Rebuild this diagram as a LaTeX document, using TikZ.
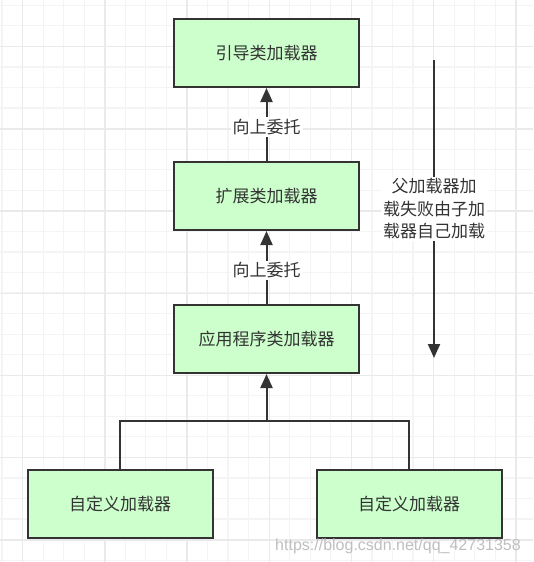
\documentclass[tikz,border=0pt]{standalone}
\usepackage{fontspec}
\newfontfamily\cjk{Noto Sans CJK SC}
\newfontfamily\latinsans{Liberation Sans}
\usepackage{xcolor}
\usepackage{tikz}
\usetikzlibrary{positioning, arrows.meta}

\definecolor{boxfill}{HTML}{CCFFCC}
\definecolor{ink}{HTML}{333333}
\definecolor{gridminor}{HTML}{F4F4F4}
\definecolor{gridmajor}{HTML}{EAEAEA}

\begin{document}
\begin{tikzpicture}[
    x=1pt, y=-1pt,
    % distance between the stacked loaders
    node distance=73pt and 0pt,
    % style of every loader box
    loader_box/.style={
        draw=ink,
        rectangle,
        line width=2pt,
        minimum width=185pt,
        minimum height=68pt,
        align=center,
        fill=boxfill,
        text=ink,
        font=\cjk\fontsize{17}{20}\selectfont
    },
    % style of the text sitting on a connector
    edge_label/.style={
        fill=white,
        text=ink,
        inner sep=2pt,
        align=center,
        font=\cjk\fontsize{17}{22.5}\selectfont
    },
    % style of the connectors
    arrow/.style={
        -{Triangle[length=14pt, width=12pt]},
        line width=2pt,
        draw=ink
    },
    plain_line/.style={
        line width=2pt,
        draw=ink
    },
    grid_minor/.style={draw=gridminor, line width=1.2pt},
    grid_major/.style={draw=gridmajor, line width=1.4pt}
]

\useasboundingbox (0,0) rectangle (533,562);
\fill[white] (0,0) rectangle (533,562);

% =====================================================================
% BACKGROUND GRID
% =====================================================================
\foreach \i in {0,...,25}
    \draw[grid_minor] ({2+20.55*\i},0) -- ++(0,562);
\foreach \i in {0,...,27}
    \draw[grid_minor] (0,{5.3+20.55*\i}) -- ++(533,0);
\foreach \i in {0,...,6}
    \draw[grid_major] ({22.7+82.2*\i},0) -- ++(0,562);
\foreach \i in {0,...,6}
    \draw[grid_major] (0,{46.7+82.2*\i}) -- ++(533,0);

% =====================================================================
% LOADER NODES
% =====================================================================
\node (boot) [loader_box] at (266.5,53) {引导类加载器};
\node (ext)  [loader_box, below=of boot] {扩展类加载器};
\node (app)  [loader_box, below=of ext] {应用程序类加载器};
\node (custA) [loader_box, below=95pt of app, xshift=-146.5pt] {自定义加载器};
\node (custB) [loader_box, below=95pt of app, xshift=142.5pt] {自定义加载器};

\coordinate (join) at ([yshift=-47pt]app.south);
\coordinate (down_top) at (434,60);
\coordinate (down_end) at (434,358);

% =====================================================================
% CONNECTORS
% =====================================================================
\draw [arrow] (ext) -- node [edge_label, pos=0.47] {向上委托} (boot);
\draw [arrow] (app) -- node [edge_label, pos=0.46] {向上委托} (ext);
\draw [plain_line] (custA.north) |- (join) -| (custB.north);
\draw [arrow] (join) -- (app);
\draw [arrow] (down_top) -- node [edge_label] {父加载器加\\载失败由子加\\载器自己加载} (down_end);

% watermark
\node (mark) [text=black!25, font=\latinsans\fontsize{16}{18}\selectfont] at (398,546) {https://blog.csdn.net/qq\_42731358};

\end{tikzpicture}
\end{document}
